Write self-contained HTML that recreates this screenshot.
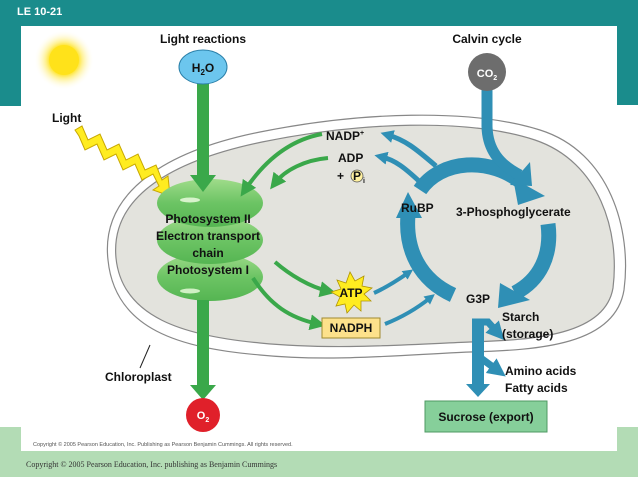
<!DOCTYPE html>
<html><head><style>
body{margin:0;width:638px;height:479px;overflow:hidden;background:#fff;font-family:"Liberation Sans",Arial,sans-serif}
svg text{font-family:"Liberation Sans",Arial,sans-serif;font-weight:bold}
</style></head><body>
<svg width="638" height="479" viewBox="0 0 638 479" xmlns="http://www.w3.org/2000/svg">
<defs>
<marker id="ga" viewBox="0 0 10 10" refX="5" refY="5" markerWidth="4" markerHeight="4" orient="auto"><path d="M0,0L10,5L0,10z" fill="#3aa84a"/></marker>
<marker id="bb" viewBox="0 0 10 10" refX="4" refY="5" markerWidth="2.6" markerHeight="2.6" orient="auto"><path d="M0,0L10,5L0,10z" fill="#2f8fb5"/></marker>
<radialGradient id="sun"><stop offset="0.45" stop-color="#ffe21a"/><stop offset="0.6" stop-color="#fff08a"/><stop offset="1" stop-color="#fff" stop-opacity="0"/></radialGradient>
<linearGradient id="disc" x1="0" y1="0" x2="0" y2="1"><stop offset="0" stop-color="#9fdc8a"/><stop offset="0.5" stop-color="#6cc464"/><stop offset="1" stop-color="#55b552"/></linearGradient>
</defs>
<rect width="638" height="479" fill="#fff"/>
<rect x="0" y="0" width="638" height="26" fill="#1a8c8c"/>
<rect x="0" y="0" width="21" height="106" fill="#1a8c8c"/>
<rect x="617" y="0" width="21" height="105" fill="#1a8c8c"/>
<rect x="0" y="427" width="638" height="50" fill="#b3dcb5"/>
<rect x="21" y="427" width="596" height="24" fill="#fff"/>
<text x="17" y="15" fill="#fff" font-size="11">LE 10-21</text>
<circle cx="64" cy="60" r="30" fill="url(#sun)"/>
<circle cx="64" cy="60" r="15" fill="#ffe21a"/>
<path d="M108,260 C100,190 170,150 260,132 C360,112 470,108 540,130 C610,152 632,230 624,290 C615,345 540,350 470,352 C400,355 330,362 260,355 C180,348 115,330 108,260Z" fill="#fff" stroke="#888" stroke-width="1.2"/>
<path d="M116,258 C110,195 175,160 262,142 C360,122 468,118 535,140 C600,162 620,232 613,288 C605,335 535,340 470,342 C400,345 330,350 260,343 C185,336 122,318 116,258Z" fill="#e3e3dd" stroke="#888" stroke-width="1.2"/>
<line x1="150" y1="345" x2="140" y2="368" stroke="#222" stroke-width="1"/>
<path d="M75,130 L82,126 L88,140 L100,134 L107,150 L119,144 L126,160 L138,154 L145,170 L156,165 L162,180 L168,176 L170,196 L153,190 L159,186 L153,174 L142,180 L135,164 L123,170 L116,154 L104,160 L97,144 L85,150 L79,136Z" fill="#ffec20" stroke="#c8a800" stroke-width="1"/>
<ellipse cx="210" cy="277" rx="53" ry="24" fill="url(#disc)"/>
<ellipse cx="210" cy="240" rx="53" ry="24" fill="url(#disc)"/>
<ellipse cx="210" cy="203" rx="53" ry="24" fill="url(#disc)"/>
<ellipse cx="190" cy="200" rx="10" ry="2.5" fill="#d8f3cc"/>
<ellipse cx="190" cy="291" rx="10" ry="2.5" fill="#d0f0c4"/>
<rect x="197" y="80" width="12" height="95" fill="#3aa84a"/>
<path d="M190,175 L216,175 L203,192Z" fill="#3aa84a"/>
<rect x="197" y="300" width="12" height="85" fill="#3aa84a"/>
<path d="M190,385 L216,385 L203,400Z" fill="#3aa84a"/>
<ellipse cx="203" cy="67" rx="24" ry="17" fill="#6cc6ee" stroke="#2a7fa8" stroke-width="1"/>
<text x="203" y="72" font-size="12" text-anchor="middle" fill="#111">H<tspan font-size="8" dy="3">2</tspan><tspan dy="-3">O</tspan></text>
<circle cx="203" cy="415" r="17" fill="#e0202a"/>
<text x="203" y="419" font-size="11" text-anchor="middle" fill="#fff">O<tspan font-size="7" dy="3">2</tspan></text>
<path d="M322,134 C290,140 265,160 245,190" fill="none" stroke="#3aa84a" stroke-width="4" marker-end="url(#ga)"/>
<path d="M328,158 C305,160 285,170 275,183" fill="none" stroke="#3aa84a" stroke-width="4" marker-end="url(#ga)"/>
<path d="M275,262 C290,275 310,287 328,291" fill="none" stroke="#3aa84a" stroke-width="4" marker-end="url(#ga)"/>
<path d="M253,278 C270,305 290,318 318,324" fill="none" stroke="#3aa84a" stroke-width="4" marker-end="url(#ga)"/>
<path d="M436,166 C415,148 405,140 388,135" fill="none" stroke="#2f8fb5" stroke-width="5" marker-end="url(#bb)"/>
<path d="M420,182 C405,168 395,160 382,157" fill="none" stroke="#2f8fb5" stroke-width="5" marker-end="url(#bb)"/>
<path d="M374,293 C385,288 395,282 408,273" fill="none" stroke="#2f8fb5" stroke-width="4" marker-end="url(#bb)"/>
<path d="M385,324 C400,318 415,310 430,298" fill="none" stroke="#2f8fb5" stroke-width="4" marker-end="url(#bb)"/>
<path d="M420,190 C440,160 490,155 525,185" fill="none" stroke="#2f8fb5" stroke-width="15"/>
<path d="M513,178 L545,196 L518,205Z" fill="#2f8fb5"/>
<path d="M487,82 L487,125 C487,150 500,165 520,175" fill="none" stroke="#2f8fb5" stroke-width="11"/>
<path d="M510,185 L530,162 L532,186Z" fill="#2f8fb5"/>
<path d="M548,224 C552,255 540,280 515,293" fill="none" stroke="#2f8fb5" stroke-width="15"/>
<path d="M500,283 L530,300 L498,308Z" fill="#2f8fb5"/>
<path d="M453,295 C420,280 405,250 408,215" fill="none" stroke="#2f8fb5" stroke-width="15"/>
<path d="M396,218 L408,192 L422,218Z" fill="#2f8fb5"/>
<path d="M478,320 L478,385" stroke="#2f8fb5" stroke-width="12"/>
<path d="M466,384 L490,384 L478,397Z" fill="#2f8fb5"/>
<path d="M472,322 L488,322 L497,332" fill="none" stroke="#2f8fb5" stroke-width="7" marker-end="url(#bb)"/>
<path d="M478,356 L497,370" fill="none" stroke="#2f8fb5" stroke-width="7" marker-end="url(#bb)"/>
<circle cx="487" cy="72" r="19" fill="#6d6d6d"/>
<text x="487" y="77" font-size="11" text-anchor="middle" fill="#fff">CO<tspan font-size="7" dy="3">2</tspan></text>
<path d="M350,272 L355,281 L364,276 L362,286 L372,288 L364,294 L371,301 L361,301 L361,311 L354,305 L347,313 L345,304 L336,306 L340,297 L331,292 L341,289 L337,280 L346,283Z" fill="#ffec20" stroke="#b09400" stroke-width="0.8"/>
<rect x="322" y="318" width="58" height="20" fill="#fde18b" stroke="#a08a30" stroke-width="1"/>
<rect x="425" y="401" width="122" height="31" fill="#86cf9a" stroke="#4f9a63" stroke-width="1"/>
<g font-size="12" fill="#111">
<text x="203" y="43" text-anchor="middle">Light reactions</text>
<text x="487" y="43" text-anchor="middle">Calvin cycle</text>
<text x="52" y="122">Light</text>
<text x="208" y="223" text-anchor="middle">Photosystem II</text>
<text x="208" y="240" text-anchor="middle">Electron transport</text>
<text x="208" y="257" text-anchor="middle">chain</text>
<text x="208" y="274" text-anchor="middle">Photosystem I</text>
<text x="326" y="140">NADP<tspan font-size="7" dy="-5">+</tspan></text>
<text x="338" y="162">ADP</text>
<text x="337" y="180">+</text>
<circle cx="357" cy="176" r="6" fill="#fff1a0" stroke="#555" stroke-width="0.8"/>
<text x="353" y="180">P</text><text x="363" y="183" font-size="7">i</text>
<text x="401" y="212">RuBP</text>
<text x="456" y="216">3-Phosphoglycerate</text>
<text x="466" y="303">G3P</text>
<text x="351" y="297" text-anchor="middle">ATP</text>
<text x="351" y="332" text-anchor="middle">NADPH</text>
<text x="502" y="321">Starch</text>
<text x="502" y="338">(storage)</text>
<text x="505" y="375">Amino acids</text>
<text x="505" y="392">Fatty acids</text>
<text x="105" y="381">Chloroplast</text>
<text x="486" y="421" text-anchor="middle">Sucrose (export)</text>
</g>
<text x="33" y="446" font-size="5.5" fill="#555" style="font-weight:normal">Copyright © 2005 Pearson Education, Inc. Publishing as Pearson Benjamin Cummings. All rights reserved.</text>
<text x="26" y="467" font-size="8" fill="#333" style="font-family:'Liberation Serif',serif;font-weight:normal">Copyright © 2005 Pearson Education, Inc. publishing as Benjamin Cummings</text>
</svg>
</body></html>
